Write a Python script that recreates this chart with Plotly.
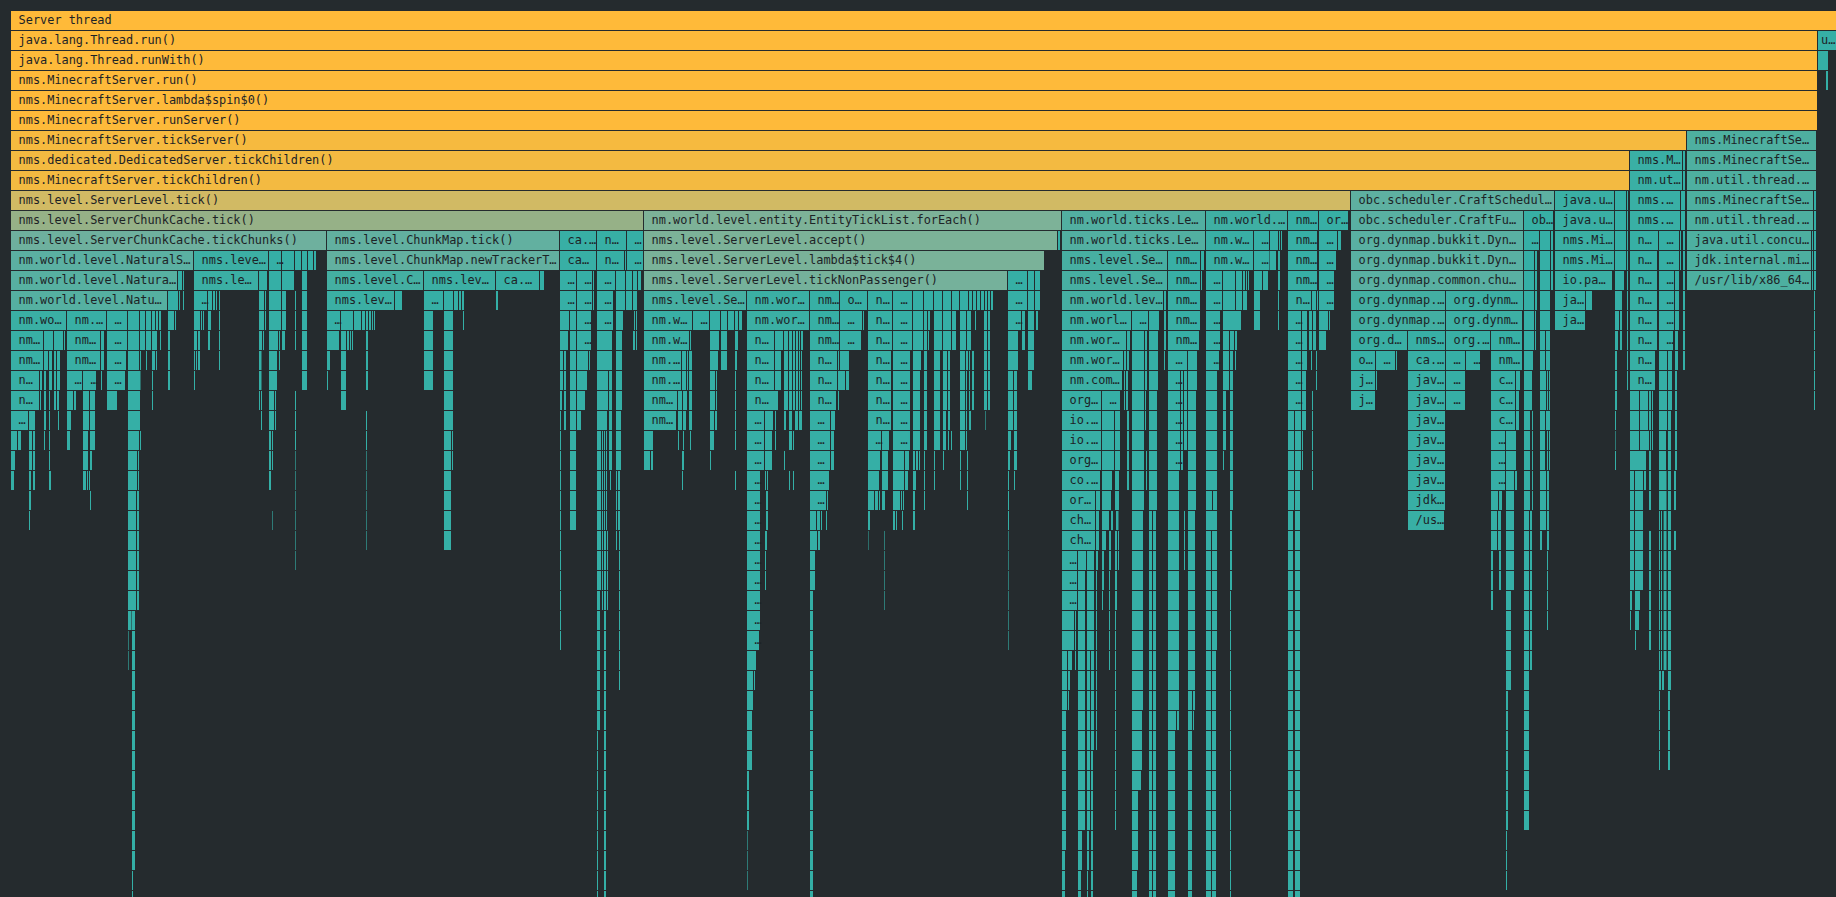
import plotly.graph_objects as go

# Each frame: (first sample, end sample[, label]); one list per stack depth.
r00 = [(11,1836,"Server thread")]
r01 = [(11,1817,"java.lang.Thread.run()"),(1818,1836,"u…")]
r02 = [(11,1817,"java.lang.Thread.runWith()"),(1818,1826),(1826.5,1828)]
r03 = [(11,1817,"nms.MinecraftServer.run()"),(1826.5,1828)]
r04 = [(11,1817,"nms.MinecraftServer.lambda$spin$0()")]
r05 = [(11,1817,"nms.MinecraftServer.runServer()")]
r06 = [(11,1686,"nms.MinecraftServer.tickServer()"),(1687,1816,"nms.MinecraftSe…")]
r07 = [(11,1629,"nms.dedicated.DedicatedServer.tickChildren()"),(1630,1682,"nms.M…"),(1683,1685),(1687,1816,"nms.MinecraftSe…")]
r08 = [(11,1629,"nms.MinecraftServer.tickChildren()"),(1630,1682,"nm.ut…"),(1683,1685),(1687,1816,"nm.util.thread.…")]
r09 = [(11,1350,"nms.level.ServerLevel.tick()"),(1351,1554,"obc.scheduler.CraftSchedul…"),(1555,1614,"java.u…"),(1615,1626),(1627,1628),
       (1630,1680,"nms.…"),(1681,1682.5),(1683,1685),(1687,1813,"nms.MinecraftSe…"),(1814,1816)]
r10 = [(11,643,"nms.level.ServerChunkCache.tick()"),(644,1061,"nm.world.level.entity.EntityTickList.forEach()"),(1062,1205,"nm.world.ticks.Le…"),
       (1206,1287,"nm.world.…"),(1288,1318,"nm…"),(1319,1348,"or…"),(1351,1523,"obc.scheduler.CraftFu…"),(1524,1553,"ob…"),
       (1555,1614,"java.u…"),(1615,1626),(1627,1628),(1630,1680,"nms.…"),(1681,1682.5),(1683,1685),(1687,1813,"nm.util.thread.…"),(1814,1816)]
r11 = [(11,326,"nms.level.ServerChunkCache.tickChunks()"),(327,559,"nms.level.ChunkMap.tick()"),(560,596,"ca.…"),(597,626,"n…"),(627,643,"…"),
       (644,1057,"nms.level.ServerLevel.accept()"),(1058,1060),(1062,1205,"nm.world.ticks.Le…"),(1206,1253,"nm.w…"),(1254,1269,"…"),(1270,1278),(1279,1280),(1281,1282),
       (1288,1317,"nm…"),(1319,1337,"…"),(1338,1341),(1351,1523,"org.dynmap.bukkit.Dyn…"),(1524,1539,"…"),(1540,1550),(1551,1553),
       (1555,1614,"nms.Mi…"),(1615,1626),(1627,1628),(1630,1658,"n…"),(1659,1679,"…"),(1680,1681),(1683,1685),(1687,1811,"java.util.concu…"),(1812,1813),(1814,1816)]
r12 = [(11,193,"nm.world.level.NaturalS…"),(194,268,"nms.leve…"),(269,281,"…"),(282,294),(295,301),(302,307),(308,313),(314,316),
       (327,559,"nms.level.ChunkMap.newTrackerT…"),(560,596,"ca…"),(597,624,"n…"),(625,626),(627,643,"…"),(644,1044,"nms.level.ServerLevel.lambda$tick$4()"),
       (1062,1167,"nms.level.Se…"),(1168,1200,"nm…"),(1201,1204),(1206,1253,"nm.w…"),(1254,1269,"…"),(1269.5,1276),(1278,1280),
       (1288,1317,"nm…"),(1319,1336,"…"),(1351,1523,"org.dynmap.bukkit.Dyn…"),(1524,1534),(1535,1537),(1540,1550),(1551,1553),
       (1555,1614,"nms.Mi…"),(1615,1626),(1627,1628),(1630,1657,"n…"),(1659,1679,"…"),(1680,1681),(1683,1685),(1687,1811,"jdk.internal.mi…"),(1812,1813),(1814,1816)]
r13 = [(11,177,"nm.world.level.Natura…"),(178,182),(183,184),(194,258,"nms.le…"),(259,267),(269,281),(282,294),(302,307),
       (327,423,"nms.level.C…"),(424,495,"nms.lev…"),(496,539,"ca.…"),(540,544),(560,576,"…"),(577,592,"…"),(593,594),(597,615,"…"),(616,625),(626,632),(633,637),(638,641),
       (644,1007,"nms.level.ServerLevel.tickNonPassenger()"),(1008,1027,"…"),(1028,1034),(1035,1040),
       (1062,1167,"nms.level.Se…"),(1168,1200,"nm…"),(1201,1202),(1206,1222,"…"),(1223,1235),(1236,1242),(1243,1245),(1246,1247),(1248,1249),(1254,1262),(1263,1268),(1278,1280),
       (1288,1317,"nm…"),(1319,1334,"…"),(1351,1523,"org.dynmap.common.chu…"),(1524,1534),(1535,1537),(1540,1550),(1551,1553),
       (1555,1612,"io.pa…"),(1615,1624),(1627,1628),(1630,1657,"n…"),(1659,1674,"…"),(1675,1679),(1683,1685),(1687,1811,"/usr/lib/x86_64…"),(1812,1813),(1814,1816)]
r14 = [(11,167,"nm.world.level.Natu…"),(168,178),(179,180),(183,184),(194,207,"…"),(208,212),(213,215),(216,217),(219,220),(259,264),(265,266),(269,281),(282,286),(295,296),(302,307),
       (327,394,"nms.lev…"),(395,402),(424,443,"…"),(444,453),(454,458),(459,461),(462,464),(496,498),
       (560,576,"…"),(577,592,"…"),(593,594),(597,613,"…"),(616,625),(626,632),(633,637),
       (644,746,"nms.level.Se…"),(747,809,"nm.wor…"),(810,839,"nm…"),(840,867,"o…"),(868,892,"n…"),(893,912,"…"),(913,923),(924,933),(934,942),(943,951),(952,959),(960,968),(969,972),(973,976),(977,980),(981,984),(985,987),(988,990),(991,993),
       (1008,1027,"…"),(1028,1034),(1035,1040),
       (1062,1163,"nm.world.lev…"),(1164,1166),(1168,1200,"nm…"),(1206,1222,"…"),(1223,1235),(1236,1242),(1243,1247),(1254,1260),(1278,1279),
       (1288,1311,"n…"),(1312,1316),(1317,1318),(1319,1334,"…"),(1351,1445,"org.dynmap.…"),(1446,1523,"org.dynm…"),(1524,1534),(1535,1537),(1540,1550),
       (1555,1585,"ja…"),(1586,1592),(1615,1622),(1627,1628),(1630,1657,"n…"),(1659,1674,"…"),(1675,1679),(1683,1684.5),(1814,1815)]
r15 = [(11,66,"nm.wo…"),(67,106,"nm.…"),(107,127,"…"),(128,139),(140,145),(146,151),(152,155),(156,158),(159,161),(168,174),(175,176),(194,200),(201,202),(203,204),(208,211),(219,220),
       (259,264),(265,266),(269,281),(282,286),(295,296),(302,307),(327,340,"…"),(341,353),(354,361),(362,365),(366,368),(369,371),(372,373),(374,375),(424,433),(444,453),(463,464),
       (560,569),(570,576),(577,591,"…"),(597,613,"…"),(616,623),(634,635),(636,637),
       (644,692,"nm.w…"),(693,709,"…"),(710,720),(721,727),(728,734),(735,738),(739,742),(747,809,"nm.wor…"),(810,839,"nm…"),(840,862,"…"),(863,864),(868,892,"n…"),(893,912,"…"),(913,923),(924,927),(928,930),(934,942),(943,951),(952,956),(960,966),(967,971),(975,976),(984,987),(988,990),
       (1008,1021,"…"),(1022,1025),(1028,1034),(1036,1038),
       (1062,1131,"nm.worl…"),(1132,1148,"…"),(1149,1159),(1164,1166),(1168,1200,"nm…"),(1206,1220,"…"),(1223,1241),(1254,1260),(1278,1279),
       (1288,1301,"…"),(1302,1307),(1309,1312),(1313,1316),(1319,1328),(1329,1330),(1351,1445,"org.dynmap.…"),(1446,1522,"org.dynm…"),(1524,1534),(1535,1536),(1540,1550),
       (1555,1585,"ja…"),(1615,1619),(1620,1622),(1627,1628),(1630,1657,"n…"),(1659,1674,"…"),(1675,1679),(1683,1684.5),(1814,1815)]
r16 = [(11,43,"nm…"),(44,53),(54,63),(64,65),(67,100,"nm…"),(101,104),(107,127,"…"),(128,139),(140,145),(146,151),(152,157),(160,161),(168,170),(194,197),(198,200),(208,210),(219,220),
       (259,262),(263,264),(269,278),(279,280),(282,285),(295,296),(302,307),(327,339),(341,346),(347,349),(350,351),(352,353),(366,368),(424,433),(444,453),
       (560,568),(570,576),(577,591,"…"),(597,612),(616,622),(633,635),(636,637),
       (644,689,"nm.w…"),(690,691),(710,719),(721,727),(735,738),(747,774,"n…"),(775,783),(784,788),(789,792),(793,795),(796,798),(799,800),(801,803),(810,839,"nm…"),(840,861,"…"),(868,892,"n…"),(893,912,"…"),(913,923),(924,927),(928,929),(934,942),(943,951),(952,956),(960,966),(967,971),(984,987),(988,990),
       (1008,1018),(1022,1025),(1028,1034),
       (1062,1126,"nm.wor…"),(1127,1130),(1132,1144),(1145,1147),(1149,1158),(1164,1166),(1168,1199,"nm…"),(1206,1220,"…"),(1223,1229),(1230,1234),(1235,1237),
       (1288,1301,"…"),(1302,1307),(1309,1312),(1313,1316),(1319,1326),(1351,1407,"org.d…"),(1408,1445,"nms…"),(1446,1490,"org.…"),(1491,1522,"nm…"),(1524,1534),(1535,1536),(1540,1545),(1546,1550),
       (1615,1618),(1620,1622),(1627,1628),(1630,1657,"n…"),(1659,1673,"…"),(1675,1678),(1683,1684.5),(1814,1815)]
r17 = [(11,43,"nm…"),(44,48),(49,52),(54,56),(57,60),(67,100,"nm…"),(101,104),(107,126,"…"),(128,139),(140,141),(146,147),(152,155),(156,157),(168,170),(194,195),(196,197),(198,200),(219,220),
       (259,261),(261.5,262),(269,277),(279,280),(302,307),(327,330),(341,346),(366,368),(424,433),(444,453),
       (560,563),(564,566),(570,576),(577,588),(589,590),(597,612),(616,622),
       (644,681,"nm.…"),(682,686),(687,688),(689,692),(710,718),(721,727),(735,737),(747,774,"n…"),(775,781),(784,788),(789,792),(793,795),(796,798),(799,800),(801,802),(810,837,"n…"),(838,839),(840,849),(868,891,"n…"),(893,910,"…"),(913,921),(924,927),(934,940),(943,947),(948,950),(960,965),(966,968),(969,970),(972,974),(984,987),(988,990),
       (1008,1018),(1028,1034),
       (1062,1123,"nm.wor…"),(1124,1126),(1127,1129),(1132,1144),(1145,1147),(1149,1158),(1164,1165),(1168,1187,"…"),(1188,1197),(1206,1219,"…"),(1223,1229),(1230,1233),(1235,1236),
       (1288,1301,"…"),(1302,1307),(1311,1312),(1316,1317),(1351,1375,"o…"),(1376,1395,"…"),(1396,1397),(1408,1445,"ca.…"),(1446,1465,"…"),(1466,1480,"…"),(1491,1522,"nm…"),(1524,1533),(1540,1545),(1546,1550),
       (1615,1617),(1630,1655,"n…"),(1659,1667),(1668,1672),(1675,1678),(1683,1684.5),(1814,1815)]
r18 = [(11,39,"n…"),(40,42),(44,46),(49,52),(54,56),(57,60),(67,82,"…"),(83,96,"…"),(101,102),(107,125,"…"),(128,140),(140.5,141),(152,153),(168,170),(194,195),(259,261),(261.5,262),(269,277),(302,307),(327,328),(341,346),(366,368),(424,433),(444,453),
       (560,563),(564,566),(570,576),(577,587),(597,608),(609,612),(616,622),
       (644,681,"nm.…"),(682,686),(687,688),(689,692),(710,715),(716,717),(735,736),(747,774,"n…"),(775,781),(784,788),(789,792),(793,795),(796,798),(799,800),(801,802),(810,837,"n…"),(838,845),(846,849),(868,891,"n…"),(893,910,"…"),(913,920),(924,927),(934,940),(943,947),(948,950),(960,965),(966,967),(969,970),(972,974),(984,987),(988,990),
       (1008,1013),(1014,1017),(1028,1032),
       (1062,1122,"nm.com…"),(1124,1125),(1126,1128),(1132,1144),(1145,1147),(1149,1158),(1168,1180,"…"),(1181,1183),(1184,1187),(1188,1197),(1206,1217),(1223,1229),(1230,1233),
       (1288,1301,"…"),(1302,1306),(1316,1317),(1351,1375,"j…"),(1376,1377),(1408,1445,"jav…"),(1446,1465,"…"),(1491,1515,"c…"),(1516,1520),(1524,1532),(1540,1546),(1547,1548),(1549,1550),
       (1615,1617),(1627,1628),(1630,1655,"n…"),(1659,1667),(1668,1672),(1675,1677),(1814,1815)]
r19 = [(11,39,"n…"),(40,41),(44,46),(49,50),(54,56),(57,59),(67,73),(74,76),(83,89),(90,95),(107,117),(128,140),(152,153),(259,260),(261,262),(269,274),(275,276),(295,296),(341,346),(444,453),
       (560,562),(564,566),(570,576),(577,585),(597,608),(609,612),(616,622),
       (644,677,"nm…"),(678,682),(683,687),(689,692),(710,715),(716,717),(735,736),(747,778,"n…"),(784,788),(789,792),(793,795),(796,798),(799,800),(801,802),(810,836,"n…"),(838,839),(868,891,"n…"),(893,910,"…"),(913,920),(924,927),(934,940),(943,947),(948,950),(960,965),(966,967),(969,970),(972,974),(984,987),(988,990),
       (1008,1013),(1014,1017),
       (1062,1101,"org…"),(1102,1120,"…"),(1124,1125),(1126,1128),(1132,1144),(1145,1146),(1149,1157),(1168,1180,"…"),(1181,1183),(1184,1187),(1188,1196),(1206,1217),(1223,1226),(1230,1233),
       (1288,1301,"…"),(1302,1306),(1312,1313),(1351,1375,"j…"),(1408,1445,"jav…"),(1446,1465,"…"),(1491,1515,"c…"),(1516,1519),(1524,1532),(1540,1546),(1547,1548),(1549,1550),
       (1615,1617),(1630,1639),(1640,1648),(1649,1651),(1652,1653),(1659,1667),(1668,1672),(1675,1677),(1814,1815)]
r20 = [(11,28,"…"),(29,35),(44,46),(49,50),(58,59),(67,71),(83,89),(90,95),(128,140),(261,262),(269,274),(275,276),(295,296),(366,367),(444,453),
       (560,561),(564,566),(570,576),(577,581),(597,607),(609,612),(616,621),
       (644,676,"nm…"),(678,682),(683,686),(689,692),(710,714),(715,717),(735,736),(747,764,"…"),(765,773),(775,776),(784,786),(789,792),(795,798),(799,802),(810,830,"…"),(831,835),(868,891,"n…"),(893,910,"…"),(913,920),(924,927),(934,940),(943,946),(948,950),(960,965),(966,967),(969,971),(985,985.6),(1008,1013),(1014,1017),
       (1062,1101,"io.…"),(1102,1114),(1115,1120),(1127,1129),(1132,1144),(1145,1146),(1149,1157),(1168,1180,"…"),(1181,1183),(1184,1187),(1188,1196),(1206,1217),(1223,1226),(1230,1233),
       (1288,1294),(1295,1301),(1302,1306),(1312,1313),(1408,1445,"jav…"),(1491,1515,"c…"),(1516,1519),(1524,1530),(1532,1533),(1540,1545),(1546,1550),
       (1615,1616),(1630,1639),(1640,1648),(1649,1651),(1652,1653),(1659,1667),(1668,1671),(1675,1677)]
r21 = [(11,17),(18,21),(29,32),(33,35),(44,45),(49,50),(67,70),(83,88),(90,95),(128,139),(140,141),(269,271),(272,273),(295,296),(366,367),(444,451),(452,453),
       (560,561),(570,576),(597,601),(602,603),(604,605),(606,607),(609,612),(616,621),
       (644,653),(678,679),(683,684),(690,691),(710,714),(735,736),(747,764,"…"),(765,772),(775,776),(789,792),(793,794),(810,830,"…"),(831,834),(868,881,"…"),(882,889),(893,908,"…"),(908,910),(913,920),(924,927),(934,940),(943,946),(948,949),(951,952),(960,965),(966,967),(1008,1011),(1014,1017),
       (1062,1101,"io.…"),(1102,1114),(1115,1120),(1127,1129),(1132,1144),(1149,1157),(1168,1180,"…"),(1181,1183),(1184,1187),(1188,1196),(1206,1217),(1223,1226),(1230,1233),
       (1288,1294),(1295,1301),(1302,1303),(1312,1313),(1408,1445,"jav…"),(1491,1505,"…"),(1506,1516),(1524,1530),(1532,1533),(1540,1545),(1547,1548),(1549,1550),
       (1615,1616),(1630,1639),(1640,1649),(1650,1651),(1652,1653),(1659,1666),(1668,1671),(1675,1677)]
r22 = [(11,15),(29,32),(33,35),(49,50),(83,88),(90,92),(128,137),(138,139),(269,271),(272,273),(295,295.6),(366,366.6),(444,451),(452,453),
       (560,561),(570,576),(597,601),(602,603),(604,605),(606,607),(609,612),(616,621),
       (644,650),(651,653),(682,684),(710,711),(747,764,"…"),(765,772),(784,785),(810,830,"…"),(831,834),(868,880),(882,888),(893,904),(905,909),(913,915),(916,918),(919,920),(924,925),(934,935),(943,944),(960,961),(967,968),(1008,1010),(1014,1017),
       (1062,1101,"org…"),(1102,1114),(1115,1120),(1127,1129),(1132,1144),(1146,1147),(1149,1157),(1168,1180,"…"),(1181,1183),(1188,1196),(1206,1217),(1223,1224),(1230,1233),
       (1288,1294),(1295,1301),(1302,1303),(1312,1313),(1408,1445,"jav…"),(1491,1505,"…"),(1506,1516),(1524,1530),(1532,1533),(1540,1545),(1547,1548),(1549,1550),
       (1615,1616),(1630,1646),(1649.5,1650.6),(1659,1666),(1668,1671),(1675,1677)]
r23 = [(11,14),(29,31),(33,35),(49,50.5),(83,86),(87,88),(89,90),(128,137),(138,139),(269,270.6),(295,295.6),(366,366.6),(444,451),
       (560,561),(570,576),(597,601),(602,603),(604,605),(606,607),(610,611),(616,617),(618,620),
       (682,683),(735,736),(747,760,"…"),(765,766),(767,768),(789,790),(793,794),(810,829,"…"),(868,879),(882,888),(893,904),(905,908),(913,916),(924,925),(934,935),(960,961),(967,968),(1008,1009),(1014,1015),
       (1062,1100,"co.…"),(1102,1112),(1115,1119),(1127,1129),(1132,1144),(1146,1147),(1149,1157),(1168,1179),(1188,1196),(1206,1217),(1230,1233),
       (1288,1294),(1295,1300),(1312,1313),(1408,1445,"jav…"),(1491,1505,"…"),(1506,1514),(1515,1517),(1524,1530),(1532,1533),(1540,1546),(1547,1549),
       (1630,1634),(1635,1643),(1644,1646),(1649.5,1650.6),(1659,1666.5),(1668,1671),(1674.6,1675.8)]
r24 = [(29,31),(90,91),(128,136),(137,139),(295,295.6),(366,366.6),(444,451),
       (560,561),(570,576),(597,601),(602,603),(604,605),(606,607),(616,617),(618,620),
       (747,760,"…"),(766,768),(810,826,"…"),(827,828),(868,874),(875,878),(879,880),(882,885),(893,900),(901,902),(903,904),(913,915),(924,925),(967,968),(1008,1009),
       (1062,1095,"or…"),(1096,1100),(1102,1111),(1115,1119),(1132,1144),(1149,1157),(1168,1179),(1188,1196),(1206,1212),(1213,1217),(1230,1233),
       (1288,1294),(1295,1300),(1408,1445,"jdk…"),(1491,1498),(1499,1502),(1506,1514),(1524,1530),(1532,1533),(1540,1546),(1547,1549),
       (1630,1634),(1635,1643),(1649.5,1650.6),(1659,1666.5),(1668,1671),(1674.6,1675.8)]
r25 = [(29,30),(128,136),(137,139),(295,295.6),(272,272.6),(366,366.6),(444,451),
       (560,561),(570,576),(597,601),(602,603),(604,605),(606,607),(616,617),(618,620),
       (747,760,"…"),(766,768),(810,816),(817,820),(821,822),(826,827),(868,870),(893,895),(896,897),(902,903),(913,915),(1008,1009),
       (1062,1095,"ch…"),(1096,1099),(1102,1109),(1111,1113),(1116,1118.5),
       (1206,1217),(1408,1444,"/us…"),(1540,1546),(1547,1549)]
r26 = [(747,760,"…"),(1062,1095,"ch…"),(1096,1099),(1102,1106),(1109,1111),(1115,1117),(1118,1119)]
r27 = [(747,760,"…"),(1062,1077,"…"),(1078,1086),(1087,1094),(1096,1098),(1102,1104),(1109,1111),(1115,1117),(1118,1119)]
r28 = [(747,760,"…"),(1062,1077,"…"),(1078,1085),(1087,1094),(1096,1097),(1102,1104),(1109,1110),(1115,1117)]
r29 = [(747,760,"…"),(1062,1077,"…"),(1078,1085),(1087,1094),(1096,1097),(1102,1103),(1109,1110),(1115,1117)]
r30 = [(747,760,"…")]
r31 = [(747,759,"…")]

# Long stacks of single-child frames: (first sample, end sample, first depth, last depth)
stack_start = [128,137,128,128,132,132,295,366,444,560,597,602,604,607,597,597,616,619,747,747,754,747,747,747,765,765,810,818,810,810,884,868.5,1008,
               1062,1075,1062,1068,1068,1068,1062,1062,1078,1078,1078,1087,1087,1091,1091,1087,1087,1096,1109,1115,
               1132,1132,1132,1132,1132,1149,1153,1168,1168,1177,1168,1184,1188,1188,1193,1193,1206,1212,1212,1230,1230,1288,1295,
               1491,1498,1491,1499,1506,1506,1506,1506,1524,1530,1540,1547,1547,
               1630,1632.6,1635,1635,1630,1635,1635,1649.5,1659,1661,1663.6,1668,1659,1662,1668,1659,1668,1674.6,1615,1627,1683,1814]
stack_end   = [136,139,131.5,128.6,135,133,295.6,366.6,451,561,601,603,605.5,608,600,598,617,620,756,753,755,752,749,747.6,767,766,817,820,815,813,884.6,869,1008.6,
               1074,1076,1067,1072,1070,1069,1066,1065,1085,1082,1081,1094,1090,1094,1093,1089,1088,1097,1110,1116,
               1143,1142,1141,1138,1137,1152,1156,1179,1176,1179,1175,1185,1195,1192,1195,1194,1211,1217,1216,1232,1231,1293,1300,
               1497,1501,1493,1501,1514,1511,1508,1507,1529,1532,1542,1549,1548,
               1631.5,1634,1643,1640,1631,1639,1636,1650.6,1660,1662,1666.5,1671,1661,1664,1671,1660,1670,1675.8,1615.6,1628,1684.5,1815]
stack_first = [26,26,30,31,30,43,26,26,26,26,26,26,26,26,29,36,26,26,32,33,33,35,38,41,26,27,26,26,27,29,26,26,26,
               30,30,32,32,33,34,35,42,30,41,43,30,32,32,37,41,43,30,30,30,
               25,35,38,39,43,25,25,25,35,35,36,25,25,34,34,35,26,26,32,25,29,25,25,
               25,25,27,27,25,29,34,41,25,25,26,26,27,
               25,25,25,29,30,30,31,26,25,25,25,25,33,33,33,34,34,26,21,9,14,14]
stack_last  = [29,29,30,32,42,44,27,26,26,31,28,29,44,29,35,44,26,33,32,34,33,37,40,43,26,28,26,26,28,44,29,26,31,
               31,32,34,32,33,34,41,44,40,42,44,31,40,36,44,42,44,36,32,40,
               34,37,38,42,44,44,44,34,35,35,44,27,33,44,34,35,44,31,44,28,44,44,44,
               26,26,29,28,28,33,40,43,40,32,26,26,30,
               29,28,28,29,30,30,31,31,32,32,32,33,33,33,33,37,37,26,21,18,17,18]

ROWS = [r00,r01,r02,r03,r04,r05,r06,r07,r08,r09,r10,r11,r12,r13,r14,r15,r16,r17,r18,r19,r20,r21,r22,r23,r24,r25,r26,r27,r28,r29,r30,r31]
TOTAL = 1825.0
BG = (37, 43, 46)
COOL = (52, 175, 166)
# share of the total width -> frame colour
RAMP = [(0.0,(52,175,166)),(0.04,(60,175,164)),(0.07,(78,175,160)),(0.1,(91,176,162)),(0.17,(109,176,158)),
        (0.23,(125,178,152)),(0.345,(150,177,135)),(0.73,(208,186,101)),(0.885,(243,186,65)),(1.0,(255,186,57))]


def frame_colour(width):
    if width < 1:
        c = [BG[i] + (COOL[i] - BG[i]) * max(width, 0.35) for i in range(3)]
    else:
        share = min(1.0, width / TOTAL)
        for (p0, c0), (p1, c1) in zip(RAMP, RAMP[1:]):
            if share <= p1:
                f = (share - p0) / (p1 - p0)
                c = [c0[i] + (c1[i] - c0[i]) * f for i in range(3)]
                break
    return "rgb(%d,%d,%d)" % tuple(round(v) for v in c)


depth, start, size, colour = [], [], [], []
label_x, label_y, label_text = [], [], []
for d, row in enumerate(ROWS):
    for frame in row:
        depth.append(d)
        start.append(frame[0])
        size.append(frame[1] - frame[0])
        colour.append(frame_colour(frame[1] - frame[0]))
        if len(frame) > 2:
            # keep the last label on the page at the right-hand edge
            label_x.append(min(frame[0] + 7.6, 1836 - len(frame[2]) * 7.25 - 0.5))
            label_y.append(d + 0.05)
            label_text.append(frame[2])
for a, b, first, last in zip(stack_start, stack_end, stack_first, stack_last):
    for d in range(first, last + 1):
        depth.append(d)
        start.append(a)
        size.append(b - a)
        colour.append(frame_colour(b - a))

fig = go.Figure()
fig.add_trace(go.Bar(y=depth, x=size, base=start, orientation="h", width=0.95,
                     marker=dict(color=colour, line=dict(width=0)), hoverinfo="skip", showlegend=False))
fig.add_trace(go.Scatter(x=label_x, y=label_y, text=label_text, mode="text", textposition="middle right",
                         textfont=dict(family="DejaVu Sans Mono", size=11.9, color="#1d2326"),
                         hoverinfo="skip", showlegend=False))
fig.update_layout(width=1836, height=897, margin=dict(l=0, r=0, t=0, b=0),
                  paper_bgcolor="#252b2e", plot_bgcolor="#252b2e", barmode="overlay", hovermode=False,
                  xaxis=dict(range=[0, 1836], visible=False, fixedrange=True),
                  yaxis=dict(range=[43.825, -1.025], visible=False, fixedrange=True))
fig.write_html("out.html", config=dict(displayModeBar=False),
               post_script="document.body.style.margin='0';document.body.style.background='#252b2e';")
